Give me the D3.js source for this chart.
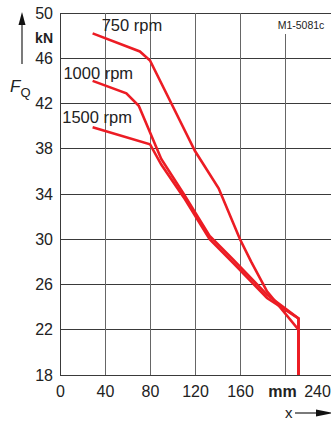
<!DOCTYPE html>
<html>
<head>
<meta charset="utf-8">
<script src="https://cdn.jsdelivr.net/npm/d3@7"></script>
<style>
  body { margin: 0; background: #fff; }
  svg { display: block; font-family: "Liberation Sans", Arial, sans-serif; }
</style>
</head>
<body>
<div id="chart"></div>
<script>
const X_TICKS = [0, 40, 80, 120, 160, 200, 240];
const X_TICK_LABELS = ["0", "40", "80", "120", "160", "mm", "240"];
const Y_TICKS = [18, 22, 26, 30, 34, 38, 42, 46, 50];

const SERIES_NAMES = ["750 rpm", "1000 rpm", "1500 rpm"];
const rpm750 = [[29, 48.2], [71, 46.6], [80, 45.8], [100, 41.8], [120, 37.8], [141, 34.5], [160, 30.0], [170, 28.0], [184, 25.4], [212, 22.0], [212, 18]];
const rpm1000 = [[29, 44.0], [59, 42.9], [70, 41.8], [90, 37.1], [110, 34.0], [120, 32.4], [133, 30.3], [154, 28.2], [184, 25.1], [212, 23.0], [212, 18]];
const rpm1500 = [[29, 39.9], [80, 38.4], [90, 36.6], [110, 33.7], [120, 32.1], [133, 30.0], [154, 27.9], [184, 24.8], [212, 23.0], [212, 18]];
const LABEL_ANCHORS = [[37, 48.4], [3, 44.2], [2, 40.25]];

const width = 331, height = 422;
const red = "#ec1c24";

const svg = d3.select("#chart").append("svg")
  .attr("width", width).attr("height", height);

const x = d3.scaleLinear().domain([0, 240]).range([60, 330]);
const y = d3.scaleLinear().domain([18, 50]).range([375, 13]);

// grid
const grid = svg.append("g").attr("stroke", "#3a3a3a").attr("stroke-width", 1).attr("shape-rendering", "crispEdges");
Y_TICKS.forEach(v => {
  grid.append("line").attr("x1", x(0)).attr("x2", width).attr("y1", y(v)).attr("y2", y(v));
});
X_TICKS.slice(0, 6).forEach(v => {
  const top = v === 200 ? 34 : y(50);
  grid.append("line").attr("x1", x(v)).attr("x2", x(v)).attr("y1", top).attr("y2", y(18))
    .attr("stroke", v === 0 ? "#3a3a3a" : "#666");
});

// axes labels
const yAxis = svg.append("g").attr("transform", `translate(${x(0)},0)`)
  .call(d3.axisLeft(y).tickValues(Y_TICKS).tickSize(0).tickPadding(7));
yAxis.select(".domain").remove();
yAxis.selectAll("text").style("font-size", "16px").attr("fill", "#222").attr("font-family", null);

const xAxis = svg.append("g").attr("transform", `translate(0,${y(18)})`)
  .call(d3.axisBottom(x).tickValues(X_TICKS).tickSize(0).tickPadding(11)
    .tickFormat((d, i) => X_TICK_LABELS[i]));
xAxis.select(".domain").remove();
xAxis.selectAll("text").style("font-size", "16px").attr("fill", "#222").attr("font-family", null)
  .style("font-weight", (d, i) => X_TICK_LABELS[i] === "mm" ? "bold" : null)
  .attr("dx", (d, i) => X_TICK_LABELS[i] === "mm" ? -3 : (i === 6 ? -13 : 0));

// curves
const line = d3.line().x(d => x(d[0])).y(d => y(d[1]));
[rpm750, rpm1000, rpm1500].forEach(s => {
  svg.append("path").datum(s)
    .attr("fill", "none").attr("stroke", red).attr("stroke-width", 2.6)
    .attr("stroke-linejoin", "miter").attr("d", line);
});

SERIES_NAMES.forEach((name, i) => {
  svg.append("text")
    .attr("x", x(LABEL_ANCHORS[i][0])).attr("y", y(LABEL_ANCHORS[i][1]))
    .style("font-size", "16.5px").attr("fill", "#222").text(name);
});

// Y axis title with arrow
svg.append("line").attr("x1", 22).attr("x2", 22).attr("y1", 64).attr("y2", 22)
  .attr("stroke", "#222").attr("stroke-width", 1.2);
svg.append("path").attr("d", "M22,12 L25.5,25 L18.5,25 Z").attr("fill", "#111");
svg.append("text").attr("x", 53).attr("y", 43).attr("text-anchor", "end")
  .style("font-size", "14px").style("font-weight", "bold").attr("fill", "#222").text("kN");
const fq = svg.append("text").attr("x", 10).attr("y", 92).attr("fill", "#222");
fq.append("tspan").style("font-size", "17px").style("font-style", "italic").text("F");
fq.append("tspan").attr("dy", 5).style("font-size", "13px").text("Q");

// X axis title with arrow
svg.append("text").attr("x", 285).attr("y", 418).style("font-size", "15px").attr("fill", "#222").text("x");
svg.append("line").attr("x1", 295).attr("x2", 318).attr("y1", 413).attr("y2", 413)
  .attr("stroke", "#222").attr("stroke-width", 1.2);
svg.append("path").attr("d", "M334,413 L316,409.5 L316,416.5 Z").attr("fill", "#111");

// figure code
svg.append("text").attr("x", 301).attr("y", 29).attr("text-anchor", "middle")
  .style("font-size", "10.5px").attr("fill", "#222").text("M1-5081c");
</script>
</body>
</html>
